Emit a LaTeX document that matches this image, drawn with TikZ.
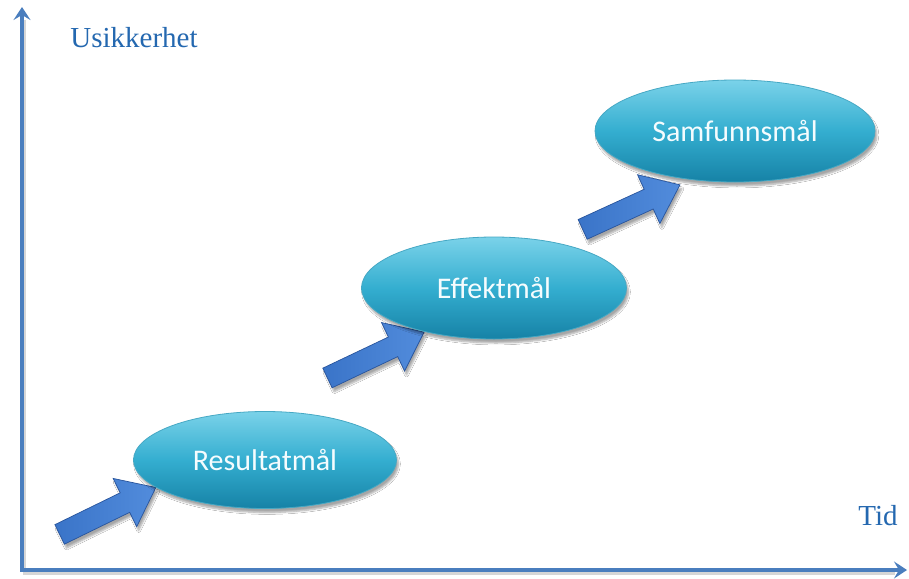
\documentclass[tikz,border=0pt]{standalone}
\usepackage{fontspec}
\setmainfont{Liberation Serif}
\newfontfamily\goalfont{Carlito}
\usetikzlibrary{shapes.geometric,shapes.arrows,arrows.meta,shadows.blur}

\definecolor{axisblue}{RGB}{74,126,190}
\definecolor{labelblue}{RGB}{36,104,176}
\definecolor{goaltop}{RGB}{122,210,233}
\definecolor{goalmid}{RGB}{52,174,208}
\definecolor{goalbot}{RGB}{22,130,166}
\definecolor{goaledge}{RGB}{70,168,196}
\definecolor{steplight}{RGB}{82,140,220}
\definecolor{stepdark}{RGB}{58,116,200}
\definecolor{stepedge}{RGB}{40,84,156}

\tikzset{
  axisline/.style={line width=3.5pt, draw=axisblue, line join=miter,
    arrows={Stealth[length=13pt,width=17pt,inset=5pt]-Stealth[length=13pt,width=17pt,inset=5pt]}},
  axisshadow/.style={line width=3.5pt, draw=black!45, opacity=0.35},
  axislabel/.style={text=labelblue, font=\fontsize{29}{34}\selectfont, inner sep=0pt},
  goal/.style={ellipse, inner sep=0pt,
    top color=goaltop, bottom color=goalbot, middle color=goalmid,
    draw=goaledge, line width=0.8pt, text=white!96!cyan,
    font=\goalfont\fontsize{30}{36}\selectfont,
    blur shadow={shadow xshift=2pt, shadow yshift=-4pt, shadow blur steps=6, shadow opacity=35}},
  stepper/.style={single arrow, inner xsep=0pt, inner ysep=10.5pt, outer sep=0pt,
    minimum height=107pt, single arrow head extend=16pt, single arrow tip angle=76,
    left color=stepdark, right color=steplight,
    draw=stepedge, line width=0.7pt,
    blur shadow={shadow xshift=2pt, shadow yshift=-4pt, shadow blur steps=6, shadow opacity=35}}
}

\begin{document}
\begin{tikzpicture}[x=1pt, y=-1pt]
  % canvas
  \fill[white] (0,0) rectangle (909,578);
  \useasboundingbox (0,0) rectangle (909,578);

  % axes
  \coordinate (O) at (22,570);
  \coordinate (Ytop) at (22,7);
  \coordinate (Xend) at (907,570);
  \coordinate (Os) at (24.5,573);
  \coordinate (Ys) at (24.5,20);
  \coordinate (Xs) at (895,573);
  \draw[axisshadow] (Ys) -- (Os) -- (Xs);
  \draw[axisline] (Ytop) -- (O) -- (Xend);

  \node[axislabel] (usikkerhet) at (134,38) {Usikkerhet};
  \node[axislabel] (tid) at (878,516) {Tid};

  % step arrows
  \node[stepper, rotate=26] (s1) at (101.5,514) {};
  \node[stepper, rotate=25.4] (s2) at (369.5,358) {};
  \node[stepper, rotate=24.6] (s3) at (625,210) {};

  % goals
  \node[goal, minimum width=263pt, minimum height=97pt] (resultat) at (265,460) {Resultatmål};
  \node[goal, minimum width=265pt, minimum height=102pt] (effekt) at (494,288) {Effektmål};
  \node[goal, minimum width=280pt, minimum height=102pt] (samfunn) at (735,131) {Samfunnsmål};
\end{tikzpicture}
\end{document}
